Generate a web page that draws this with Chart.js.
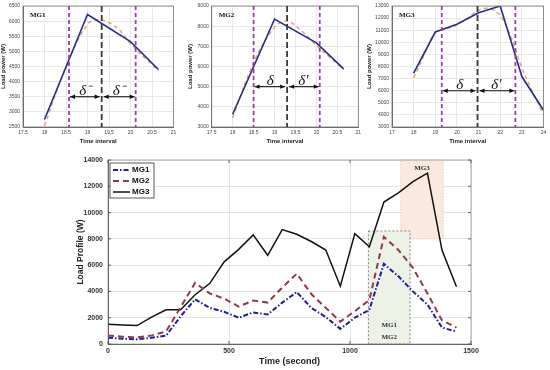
<!DOCTYPE html>
<html>
<head>
<meta charset="utf-8">
<script src="https://cdn.jsdelivr.net/npm/chart.js@4.4.1/dist/chart.umd.min.js"></script>
<style>
  body { margin: 0; background: #fff; width: 550px; height: 370px; position: relative; overflow: hidden; }
  canvas { position: absolute; }
</style>
</head>
<body>
<canvas id="mg1" width="180" height="145" style="left:0;top:0"></canvas>
<canvas id="mg2" width="180" height="145" style="left:185px;top:0"></canvas>
<canvas id="mg3" width="185" height="145" style="left:365px;top:0"></canvas>
<canvas id="profile" width="490" height="220" style="left:60px;top:150px"></canvas>
<script>
// ---- top subplots (hour of day) ----
const mg1Hours = [18, 19, 20, 20.65];
const mg1Load = [2750, 6220, 5320, 4400];
const mg1PredHours = [18, 18.5, 19, 19.25, 19.5, 19.75, 20, 20.65];
const mg1Pred = [2530, 4500, 5900, 6050, 5950, 5700, 5250, 4350];
const mg1Marks = [18.57, 19.33, 20.12];   // purple, black, purple
const mg1ArrowAt = 3500;

const mg2Hours = [18, 19, 20, 20.65];
const mg2Load = [3630, 8350, 7170, 5880];
const mg2PredHours = [18, 18.5, 19, 19.3, 19.6, 20, 20.65];
const mg2Pred = [3450, 6200, 7950, 8250, 7850, 7050, 5850];
const mg2Marks = [18.5, 19.3, 20.08];
const mg2ArrowAt = 5000;

const mg3Hours = [18, 19, 20, 21, 22, 23, 24];
const mg3Load = [7450, 10850, 11500, 12440, 13000, 7170, 4380];
const mg3PredHours = [18, 18.5, 19, 19.5, 20, 20.5, 21, 21.5, 22, 22.5, 23, 23.5, 24];
const mg3Pred = [7050, 9000, 10800, 11100, 11450, 12000, 12650, 12800, 12200, 10400, 7900, 5900, 4000];
const mg3Marks = [19.3, 20.95, 22.7];
const mg3ArrowAt = 6000;

// ---- bottom profile (seconds) ----
const timeSec = [0, 60, 120, 180, 240, 300, 360, 420, 480, 540, 600, 660, 720,
                 780, 840, 900, 960, 1020, 1080, 1140, 1200, 1260, 1320, 1380, 1440];
const profMG1 = [480, 400, 360, 470, 630, 2100, 3400, 2750, 2450, 2000, 2400, 2250, 3150,
                 3950, 2750, 2050, 1150, 2000, 2600, 6100, 5150, 4000, 3000, 1250, 950];
const profMG2 = [650, 560, 500, 650, 950, 2800, 4650, 3850, 3450, 2850, 3300, 3150, 4300,
                 5350, 3800, 2750, 1700, 2500, 3350, 8150, 7150, 5800, 3850, 1800, 1250];
const profMG3 = [1500, 1450, 1400, 2050, 2600, 2600, 3750, 4600, 6250, 7200, 8300, 6750, 8700,
                 8350, 7800, 7150, 4400, 8400, 7400, 10800, 11500, 12350, 13000, 7150, 4350];
const zoneMG12 = [1076, 1248, 0, 8600];      // time from, time to, load from, load to
const zoneMG3 = [1210, 1385, 8000, 14000];

const toXY = (xs, ys) => xs.map((x, i) => ({ x: x, y: ys[i] }));
const plain = v => String(v);

function arrow(ctx, x1, x2, y) {
  ctx.beginPath(); ctx.moveTo(x1, y); ctx.lineTo(x2, y); ctx.stroke();
  [[x1, 1], [x2, -1]].forEach(([x, d]) => {
    ctx.beginPath();
    ctx.moveTo(x, y); ctx.lineTo(x + d * 5, y - 2.2); ctx.lineTo(x + d * 5, y + 2.2);
    ctx.closePath(); ctx.fill();
  });
}

function subplot(id, o) {
  const decor = {
    id: 'decor',
    afterDatasetsDraw(chart) {
      const { ctx, chartArea: a, scales: { x, y } } = chart;
      ctx.save();
      ctx.strokeStyle = '#777'; ctx.lineWidth = 0.8;
      ctx.strokeRect(a.left, a.top, a.right - a.left, a.bottom - a.top);
      o.marks.forEach((m, i) => {
        const px = x.getPixelForValue(m);
        ctx.strokeStyle = i === 1 ? '#3a3a3a' : '#9b3bb5';
        ctx.lineWidth = 1.8;
        ctx.setLineDash(i === 1 ? [6, 3] : [4, 3]);
        ctx.beginPath(); ctx.moveTo(px, a.top); ctx.lineTo(px, a.bottom); ctx.stroke();
      });
      ctx.setLineDash([]);
      const ay = y.getPixelForValue(o.arrowAt);
      const p0 = x.getPixelForValue(o.marks[0]), p1 = x.getPixelForValue(o.marks[1]), p2 = x.getPixelForValue(o.marks[2]);
      ctx.strokeStyle = '#111'; ctx.fillStyle = '#111'; ctx.lineWidth = 1.1;
      arrow(ctx, p0 + 1, p1 - 2, ay);
      arrow(ctx, p1 + 2, p2 - 1, ay);
      ctx.font = 'italic 15px "Liberation Serif"';
      ctx.textAlign = 'center'; ctx.textBaseline = 'alphabetic';
      ctx.fillText(o.deltas[0], (p0 + p1) / 2, ay - 2);
      ctx.fillText(o.deltas[1], (p1 + p2) / 2, ay - 2);
      ctx.font = 'bold 7px "Liberation Serif"';
      ctx.textAlign = 'left'; ctx.textBaseline = 'middle';
      ctx.fillText(o.name, a.left + 7, a.top + 9);
      ctx.restore();
    }
  };
  new Chart(document.getElementById(id), {
    type: 'line',
    data: {
      datasets: [
        { data: toXY(o.hours, o.load), borderColor: '#22308a', borderWidth: 1.6, pointRadius: 0, tension: 0 },
        { data: toXY(o.predHours, o.pred), borderColor: '#e5a072', borderWidth: 1.4, borderDash: [4, 3], pointRadius: 0, tension: 0.35 }
      ]
    },
    options: {
      responsive: false, animation: false, events: [],
      layout: { padding: { top: o.top, right: o.right, left: 0, bottom: 0 } },
      plugins: { legend: { display: false }, tooltip: { enabled: false } },
      scales: {
        x: {
          type: 'linear', min: o.xMin, max: o.xMax,
          ticks: { stepSize: o.xStep, autoSkip: false, maxRotation: 0, padding: 2.5, color: '#444', callback: plain, font: { size: 5, family: 'Liberation Sans' } },
          grid: { color: '#e8e8e8', drawTicks: false },
          border: { color: '#666' },
          title: { display: true, text: 'Time interval', color: '#222', padding: { top: 0, bottom: 0.5 }, font: { size: 6, weight: 'bold', family: 'Liberation Sans' } },
          afterFit: s => { s.height = 18; }
        },
        y: {
          min: o.yMin, max: o.yMax,
          ticks: { stepSize: o.yStep, autoSkip: false, padding: 3, color: '#444', callback: plain, font: { size: 5, family: 'Liberation Sans' } },
          grid: { color: '#e8e8e8', drawTicks: false },
          border: { color: '#666' },
          title: { display: true, text: 'Load power (W)', color: '#222', padding: { top: o.titlePad, bottom: 0 }, font: { size: 6, weight: 'bold', family: 'Liberation Sans' } },
          afterFit: s => { s.width = o.yw; }
        }
      }
    },
    plugins: [decor]
  });
}

subplot('mg1', { name: 'MG1', hours: mg1Hours, load: mg1Load, predHours: mg1PredHours, pred: mg1Pred,
  marks: mg1Marks, arrowAt: mg1ArrowAt, deltas: ['δ⁻', 'δ⁻'],
  xMin: 17.5, xMax: 21, xStep: 0.5, yMin: 2500, yMax: 6500, yStep: 500,
  top: 5, right: 6.5, yw: 23, titlePad: 0 });
subplot('mg2', { name: 'MG2', hours: mg2Hours, load: mg2Load, predHours: mg2PredHours, pred: mg2Pred,
  marks: mg2Marks, arrowAt: mg2ArrowAt, deltas: ['δ', 'δ\''],
  xMin: 17.5, xMax: 21, xStep: 0.5, yMin: 3000, yMax: 9000, yStep: 1000,
  top: 5, right: 6.7, yw: 26.7, titlePad: 1.5 });
subplot('mg3', { name: 'MG3', hours: mg3Hours, load: mg3Load, predHours: mg3PredHours, pred: mg3Pred,
  marks: mg3Marks, arrowAt: mg3ArrowAt, deltas: ['δ', 'δ\''],
  xMin: 17, xMax: 24, xStep: 1, yMin: 3000, yMax: 13000, yStep: 1000,
  top: 6, right: 6.5, yw: 27, titlePad: 0.5 });

// ---- bottom chart ----
const zones = {
  id: 'zones',
  beforeDatasetsDraw(chart) {
    const { ctx, chartArea: a, scales: { x, y } } = chart;
    ctx.save();
    const g = [x.getPixelForValue(zoneMG12[0]), x.getPixelForValue(zoneMG12[1]), y.getPixelForValue(zoneMG12[2]), y.getPixelForValue(zoneMG12[3])];
    const o = [x.getPixelForValue(zoneMG3[0]), x.getPixelForValue(zoneMG3[1]), y.getPixelForValue(zoneMG3[2]), y.getPixelForValue(zoneMG3[3])];
    ctx.fillStyle = '#fbe8de';
    ctx.fillRect(o[0], o[3], o[1] - o[0], o[2] - o[3]);
    ctx.strokeStyle = '#d8c2b6'; ctx.lineWidth = 0.8; ctx.setLineDash([1.5, 1.5]);
    ctx.strokeRect(o[0], o[3], o[1] - o[0], o[2] - o[3]);
    ctx.fillStyle = '#edf2e6';
    ctx.fillRect(g[0], g[3], g[1] - g[0], g[2] - g[3]);
    ctx.strokeStyle = '#666'; ctx.setLineDash([2, 2]);
    ctx.strokeRect(g[0], g[3], g[1] - g[0], g[2] - g[3]);
    ctx.setLineDash([]);
    ctx.fillStyle = '#333';
    ctx.font = 'bold 7px "Liberation Serif"';
    ctx.textAlign = 'center'; ctx.textBaseline = 'middle';
    ctx.fillText('MG3', (o[0] + o[1]) / 2, o[3] + 8);
    ctx.fillText('MG1', (g[0] + g[1]) / 2, g[2] - 19);
    ctx.fillText('MG2', (g[0] + g[1]) / 2, g[2] - 7);
    ctx.restore();
  },
  afterDraw(chart) {
    const { ctx, chartArea: a, scales: { x, y } } = chart;
    ctx.save();
    ctx.strokeStyle = '#999'; ctx.lineWidth = 0.8;
    ctx.strokeRect(a.left, a.top, a.right - a.left, a.bottom - a.top);
    ctx.strokeStyle = '#444';
    ctx.beginPath();
    y.ticks.forEach(t => {
      const py = y.getPixelForValue(t.value);
      ctx.moveTo(a.left, py); ctx.lineTo(a.left + 3, py);
      ctx.moveTo(a.right, py); ctx.lineTo(a.right - 3, py);
    });
    x.ticks.forEach(t => {
      const px = x.getPixelForValue(t.value);
      ctx.moveTo(px, a.bottom); ctx.lineTo(px, a.bottom - 3);
      ctx.moveTo(px, a.top); ctx.lineTo(px, a.top + 3);
    });
    ctx.stroke();
    // legend
    const lx = a.left + 2, ly = a.top + 3;
    ctx.fillStyle = '#fff';
    ctx.fillRect(lx, ly, 44, 35);
    ctx.strokeStyle = '#333'; ctx.lineWidth = 0.8;
    ctx.strokeRect(lx, ly, 44, 35);
    ctx.font = 'bold 8px "Liberation Sans"';
    ctx.textAlign = 'left'; ctx.textBaseline = 'middle';
    chart.data.datasets.forEach((d, i) => {
      const yy = ly + 7 + i * 11;
      ctx.strokeStyle = d.borderColor; ctx.lineWidth = d.borderWidth;
      ctx.setLineDash(d.borderDash || []);
      ctx.beginPath(); ctx.moveTo(lx + 3, yy); ctx.lineTo(lx + 20, yy); ctx.stroke();
      ctx.setLineDash([]);
      ctx.fillStyle = '#111';
      ctx.fillText(d.label, lx + 22, yy);
    });
    ctx.restore();
  }
};

new Chart(document.getElementById('profile'), {
  type: 'line',
  data: {
    datasets: [
      { label: 'MG1', data: toXY(timeSec, profMG1), borderColor: '#1e1e9e', borderWidth: 2, borderDash: [5, 2, 1.5, 2], pointRadius: 0, tension: 0 },
      { label: 'MG2', data: toXY(timeSec, profMG2), borderColor: '#8e3a48', borderWidth: 2, borderDash: [6, 4], pointRadius: 0, tension: 0 },
      { label: 'MG3', data: toXY(timeSec, profMG3), borderColor: '#111', borderWidth: 1.5, pointRadius: 0, tension: 0 }
    ]
  },
  options: {
    responsive: false, animation: false, events: [],
    layout: { padding: { top: 10, right: 79, left: 0, bottom: 0 } },
    plugins: { legend: { display: false }, tooltip: { enabled: false } },
    scales: {
      x: {
        type: 'linear', min: 0, max: 1500,
        ticks: { stepSize: 500, maxRotation: 0, padding: 3, color: '#333', callback: plain, font: { size: 7, weight: 'bold', family: 'Liberation Sans' } },
        grid: { color: '#e4e4e4', drawTicks: false },
        border: { color: '#444' },
        title: { display: true, text: 'Time (second)', color: '#222', padding: { top: 0, bottom: 3.5 }, font: { size: 9, weight: 'bold', family: 'Liberation Sans' } },
        afterFit: s => { s.height = 26; }
      },
      y: {
        min: 0, max: 14000,
        ticks: { stepSize: 2000, padding: 5, color: '#333', callback: plain, font: { size: 7, weight: 'bold', family: 'Liberation Sans' } },
        grid: { color: '#e4e4e4', drawTicks: false },
        border: { color: '#444' },
        title: { display: true, text: 'Load Profile (W)', color: '#222', padding: { top: 16, bottom: 0 }, font: { size: 8.5, weight: 'bold', family: 'Liberation Sans' } },
        afterFit: s => { s.width = 48; }
      }
    }
  },
  plugins: [zones]
});
</script>
</body>
</html>
